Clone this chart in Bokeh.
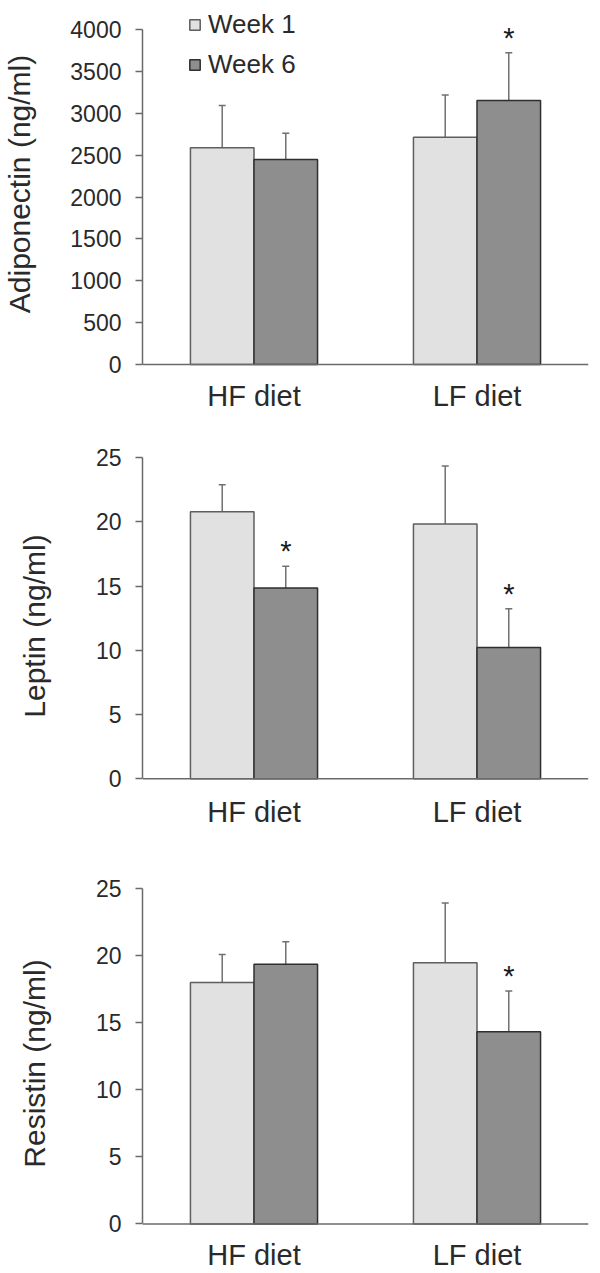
from bokeh.plotting import figure
from bokeh.models import (ColumnDataSource, FactorRange, Range1d, Whisker, TeeHead,
                          Legend, LegendItem, FixedTicker, Span)
from bokeh.transform import dodge
from bokeh.layouts import column
from bokeh.embed import file_html
from bokeh.resources import INLINE
from bokeh.core.properties import value

# ---------------- data ----------------
diets = ["HF diet", "LF diet"]
series = ["Week 1", "Week 6"]

adipo_w1 = [2590, 2715]
adipo_w1_sd = [505, 505]
adipo_w6 = [2450, 3155]
adipo_w6_sd = [315, 570]
adipo_sig_w6 = ["", "*"]
adipo_ticks = [0, 500, 1000, 1500, 2000, 2500, 3000, 3500, 4000]

leptin_w1 = [20.8, 19.85]
leptin_w1_sd = [2.1, 4.5]
leptin_w6 = [14.85, 10.22]
leptin_w6_sd = [1.7, 3.02]
leptin_sig_w6 = ["*", "*"]
leptin_ticks = [0, 5, 10, 15, 20, 25]

resistin_w1 = [18.0, 19.48]
resistin_w1_sd = [2.1, 4.45]
resistin_w6 = [19.36, 14.34]
resistin_w6_sd = [1.68, 3.04]
resistin_sig_w6 = ["", "*"]
resistin_ticks = [0, 5, 10, 15, 20, 25]

y_titles = ["Adiponectin (ng/ml)", "Leptin (ng/ml)", "Resistin (ng/ml)"]

# ---------------- style ----------------
FONT = "Liberation Sans"
LIGHT_FILL, LIGHT_LINE = "#e1e1e1", "#5e5e5e"
DARK_FILL, DARK_LINE = "#8e8e8e", "#2f2f2f"
AXIS_COLOR = "#6a6a6a"
ERR_COLOR = "#707070"
TEXT_COLOR = "#2a2a2a"
BAR_W = 0.285
OFF = 0.1425


def make_panel(title, w1, w1sd, w6, w6sd, sig6, ticks, geom, with_legend=False):
    p = figure(width=600, height=geom["h"],
               x_range=FactorRange(factors=diets),
               y_range=Range1d(geom["y0"], geom["y1"]),
               output_backend="svg", toolbar_location=None,
               min_border_left=geom["left"], min_border_right=12,
               min_border_top=geom["top"], min_border_bottom=geom["bottom"],
               outline_line_color=None)
    p.xgrid.visible = False
    p.ygrid.visible = False

    s1 = ColumnDataSource(dict(diet=diets, val=w1,
                               upper=[v + e for v, e in zip(w1, w1sd)]))
    s6 = ColumnDataSource(dict(diet=diets, val=w6,
                               upper=[v + e for v, e in zip(w6, w6sd)],
                               sig=sig6))

    r1 = p.vbar(x=dodge("diet", -OFF, range=p.x_range), top="val", bottom=0,
                width=BAR_W, source=s1, fill_color=LIGHT_FILL,
                line_color=LIGHT_LINE, line_width=1.5)
    r6 = p.vbar(x=dodge("diet", OFF, range=p.x_range), top="val", bottom=0,
                width=BAR_W, source=s6, fill_color=DARK_FILL,
                line_color=DARK_LINE, line_width=1.5)

    for src, off in ((s1, -OFF), (s6, OFF)):
        w = Whisker(base=dodge("diet", off, range=p.x_range), upper="upper",
                    lower="val", source=src, dimension="height",
                    line_color=ERR_COLOR, line_width=1.5,
                    upper_head=TeeHead(size=7, line_color=ERR_COLOR, line_width=1.5),
                    lower_head=None)
        p.add_layout(w)

    p.text(x=dodge("diet", OFF, range=p.x_range), y="upper", text="sig",
           source=s6, text_align="center", text_baseline="alphabetic",
           y_offset=-15, text_font_size="29px", text_color="#1a1a1a",
           text_font=value(FONT))

    # baseline (x axis line at zero)
    p.add_layout(Span(location=0, dimension="width", line_color=AXIS_COLOR,
                      line_width=1.5))

    # y axis
    ya = p.yaxis[0]
    ya.ticker = FixedTicker(ticks=ticks)
    ya.bounds = (ticks[0], ticks[-1])
    ya.major_tick_out = 7
    ya.major_tick_in = 0
    ya.minor_tick_out = 0
    ya.minor_tick_in = 0
    ya.axis_line_color = AXIS_COLOR
    ya.axis_line_width = 1.5
    ya.major_tick_line_color = AXIS_COLOR
    ya.major_tick_line_width = 1.5
    ya.major_label_text_font = FONT
    ya.major_label_text_font_size = "23px"
    ya.major_label_text_color = TEXT_COLOR
    ya.major_label_standoff = 14
    ya.axis_label = title
    ya.axis_label_text_font = FONT
    ya.axis_label_text_font_size = "30px"
    ya.axis_label_text_font_style = "normal"
    ya.axis_label_text_color = TEXT_COLOR
    ya.axis_label_standoff = geom["als"]

    # x axis (labels only; its line is the zero span)
    xa = p.xaxis[0]
    xa.major_tick_out = 0
    xa.major_tick_in = 0
    xa.axis_line_color = None
    xa.major_label_text_font = FONT
    xa.major_label_text_font_size = "29px"
    xa.major_label_text_color = TEXT_COLOR
    xa.major_label_standoff = geom["xstand"]

    if with_legend:
        leg = Legend(items=[LegendItem(label=series[0], renderers=[r1]),
                            LegendItem(label=series[1], renderers=[r6])],
                     location=(46, 287), orientation="vertical",
                     glyph_width=13, glyph_height=13, label_standoff=7,
                     spacing=9, padding=0, margin=0,
                     border_line_color=None, background_fill_alpha=0,
                     label_text_font=FONT, label_text_font_size="26px",
                     label_text_color=TEXT_COLOR)
        p.add_layout(leg)
    return p


g1 = dict(h=420, left=141, top=0, bottom=53, y0=-35.85, y1=4350.2, xstand=12, als=31)
g2 = dict(h=420, left=139, top=37, bottom=46, y0=-1.22, y1=25.02, xstand=1, als=42)
g3 = dict(h=433, left=139, top=48, bottom=33, y0=-1.09, y1=25.02, xstand=0, als=42)

p1 = make_panel(y_titles[0], adipo_w1, adipo_w1_sd, adipo_w6, adipo_w6_sd,
                adipo_sig_w6, adipo_ticks, g1, with_legend=True)
p2 = make_panel(y_titles[1], leptin_w1, leptin_w1_sd, leptin_w6, leptin_w6_sd,
                leptin_sig_w6, leptin_ticks, g2)
p3 = make_panel(y_titles[2], resistin_w1, resistin_w1_sd, resistin_w6, resistin_w6_sd,
                resistin_sig_w6, resistin_ticks, g3)

layout = column(p1, p2, p3, spacing=0)
open("out.html", "w").write(file_html(layout, INLINE))
